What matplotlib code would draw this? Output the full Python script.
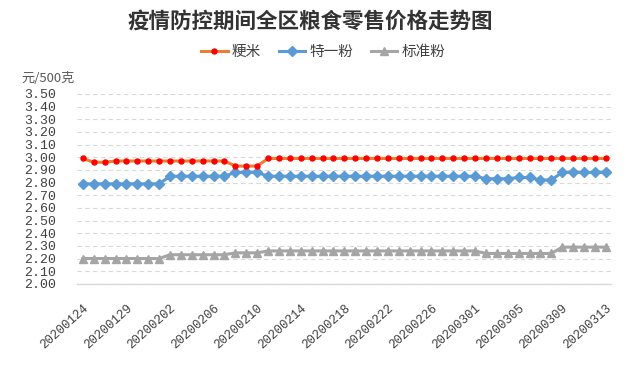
import matplotlib
matplotlib.use("Agg")
import matplotlib.pyplot as plt

plt.rcParams['font.family'] = ['Noto Sans CJK SC', 'DejaVu Sans']

# Dates (20200125 is missing in the source data)
dates = [
    "20200124", "20200126", "20200127", "20200128", "20200129", "20200130", "20200131",
    "20200201", "20200202", "20200203", "20200204", "20200205", "20200206", "20200207",
    "20200208", "20200209", "20200210", "20200211", "20200212", "20200213", "20200214",
    "20200215", "20200216", "20200217", "20200218", "20200219", "20200220", "20200221",
    "20200222", "20200223", "20200224", "20200225", "20200226", "20200227", "20200228",
    "20200229", "20200301", "20200302", "20200303", "20200304", "20200305", "20200306",
    "20200307", "20200308", "20200309", "20200310", "20200311", "20200312", "20200313",
]

# 粳米
rice = [2.99, 2.96, 2.96, 2.97, 2.97, 2.97, 2.97, 2.97, 2.97, 2.97,
        2.97, 2.97, 2.97, 2.97, 2.93, 2.93, 2.93, 2.99, 2.99, 2.99,
        2.99, 2.99, 2.99, 2.99, 2.99, 2.99, 2.99, 2.99, 2.99, 2.99,
        2.99, 2.99, 2.99, 2.99, 2.99, 2.99, 2.99, 2.99, 2.99, 2.99,
        2.99, 2.99, 2.99, 2.99, 2.99, 2.99, 2.99, 2.99, 2.99]
# 特一粉
flour1 = [2.79, 2.79, 2.79, 2.79, 2.79, 2.79, 2.79, 2.79, 2.85, 2.85,
          2.85, 2.85, 2.85, 2.85, 2.88, 2.88, 2.88, 2.85, 2.85, 2.85,
          2.85, 2.85, 2.85, 2.85, 2.85, 2.85, 2.85, 2.85, 2.85, 2.85,
          2.85, 2.85, 2.85, 2.85, 2.85, 2.85, 2.85, 2.83, 2.83, 2.83,
          2.84, 2.84, 2.82, 2.82, 2.88, 2.88, 2.88, 2.88, 2.88]
# 标准粉
flour2 = [2.20, 2.20, 2.20, 2.20, 2.20, 2.20, 2.20, 2.20, 2.23, 2.23,
          2.23, 2.23, 2.23, 2.23, 2.245, 2.245, 2.245, 2.26, 2.26, 2.26,
          2.26, 2.26, 2.26, 2.26, 2.26, 2.26, 2.26, 2.26, 2.26, 2.26,
          2.26, 2.26, 2.26, 2.26, 2.26, 2.26, 2.26, 2.24, 2.24, 2.24,
          2.24, 2.24, 2.24, 2.24, 2.29, 2.29, 2.29, 2.29, 2.29]

yticks = [2.00, 2.10, 2.20, 2.30, 2.40, 2.50, 2.60, 2.70, 2.80, 2.90,
          3.00, 3.10, 3.20, 3.30, 3.40, 3.50]

fig = plt.figure(figsize=(6.4, 3.74), dpi=100)
ax = fig.add_axes([0.121, 0.241, 0.834, 0.508])

x = list(range(len(dates)))
ax.plot(x, rice, color='#ED7D31', lw=2.2, marker='o', ms=3.6,
        mfc='#FF0000', mec='#FF0000', label='粳米', zorder=4)
ax.plot(x, flour1, color='#5B9BD5', lw=2.2, marker='D', ms=4.6,
        mfc='#5B9BD5', mec='#5B9BD5', label='特一粉', zorder=3)
ax.plot(x, flour2, color='#A5A5A5', lw=2.2, marker='^', ms=5.2,
        mfc='#A5A5A5', mec='#A5A5A5', label='标准粉', zorder=3)

ax.set_xlim(-0.5, len(dates) - 0.5)
ax.set_ylim(2.0, 3.5)
ax.set_yticks(yticks)
ax.set_yticklabels([f"{v:.2f}" for v in yticks], family='Liberation Mono',
                   fontsize=9.5, color='#404040')
ax.set_xticks(x[::4])
ax.set_xticklabels(dates[::4], family='Liberation Mono', fontsize=9,
                   color='#404040', rotation=42, ha='right', va='top',
                   rotation_mode='anchor')
ax.tick_params(axis='y', length=0, pad=15)
ax.tick_params(axis='x', length=0, pad=13)

ax.grid(axis='y', color='#D9D9D9', lw=0.8, ls=(0, (4, 3)))
ax.set_axisbelow(True)
for s in ['top', 'right', 'left']:
    ax.spines[s].set_visible(False)
ax.spines['bottom'].set_color('#D9D9D9')
ax.spines['bottom'].set_linewidth(1)

fig.text(0.485, 0.94, '疫情防控期间全区粮食零售价格走势图', ha='center', va='center',
         fontsize=15.5, fontweight='bold', color='#333333')
fig.text(0.034, 0.79, '元/500克', ha='left', va='center', fontsize=9.5,
         color='#595959')

fig.legend(loc='center', bbox_to_anchor=(0.505, 0.861), ncol=3, frameon=False,
           fontsize=10.5, handlelength=1.8, handletextpad=0.3, columnspacing=1.2,
           labelcolor='#404040')

fig.savefig('out.png', dpi=100)
